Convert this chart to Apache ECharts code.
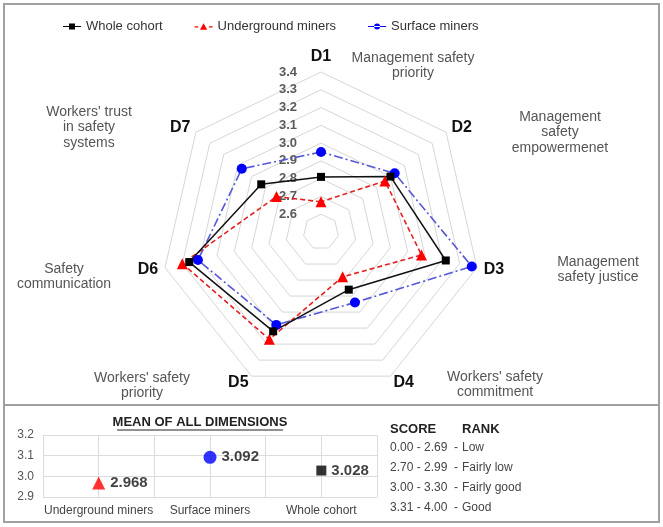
<!DOCTYPE html>
<html>
<head>
<meta charset="utf-8">
<script src="https://cdn.jsdelivr.net/npm/echarts@6/dist/echarts.min.js"></script>
<style>
html, body { margin: 0; padding: 0; background: #fff; }
#main { width: 663px; height: 527px; }
</style>
</head>
<body>
<div id="main"></div>
<script>
// radar dimensions
var dims = ['D1', 'D2', 'D3', 'D4', 'D5', 'D6', 'D7'];
var dimDesc = [
  'Management safety\npriority',
  'Management\nsafety\nempowermenet',
  'Management\nsafety justice',
  "Workers' safety\ncommitment",
  "Workers' safety\npriority",
  'Safety\ncommunication',
  "Workers' trust\nin safety\nsystems"
];
var radarMin = 2.5;
var radarMax = 3.4;
var radarStep = 0.1;

// mean score per dimension
var wholeCohort = [2.81, 3.00, 3.22, 2.86, 3.12, 3.26, 2.93];
var undergroundMiners = [2.67, 2.96, 3.08, 2.78, 3.17, 3.30, 2.82];
var surfaceMiners = [2.95, 3.03, 3.37, 2.94, 3.08, 3.21, 3.07];
var groupNames = ['Whole cohort', 'Underground miners', 'Surface miners'];

// mean of all dimensions
var meanCats = ['Underground miners', 'Surface miners', 'Whole cohort'];
var meanValues = [2.968, 3.092, 3.028];
var meanTicks = [2.9, 3.0, 3.1, 3.2];

// score table
var scoreRanges = ['0.00 - 2.69', '2.70 - 2.99', '3.00 - 3.30', '3.31 - 4.00'];
var scoreRanks = ['Low', 'Fairly low', 'Fairly good', 'Good'];

var FONT = 'Liberation Sans, Arial, sans-serif';

// radar runs counter-clockwise, so feed D1, D7, D6 ... D2 to get them clockwise
var order = [0, 6, 5, 4, 3, 2, 1];
function reorder(arr) { return order.map(function (k) { return arr[k]; }); }

var CX = 321, CY = 232, R = 160;

var myChart = echarts.init(document.getElementById('main'));

// where the long axis descriptions sit (center x, first line y)
var descPos = [[413, 58], [560, 117], [598, 262], [495, 377], [142, 378], [64, 269], [89, 112]];

var graphics = [
  { type: 'rect', z: -1, shape: { x: 4, y: 4, width: 655, height: 401 }, style: { fill: 'none', stroke: '#a0a0a0', lineWidth: 2 } },
  { type: 'rect', z: -1, shape: { x: 4, y: 405, width: 655, height: 117 }, style: { fill: 'none', stroke: '#a0a0a0', lineWidth: 2 } },
  { type: 'text', style: { text: 'MEAN OF ALL DIMENSIONS', x: 200, y: 422, textAlign: 'center', textVerticalAlign: 'middle', fill: '#222', font: 'bold 13px ' + FONT } },
  { type: 'line', shape: { x1: 117, y1: 430, x2: 283, y2: 430 }, style: { stroke: '#222', lineWidth: 1 } },
  { type: 'text', style: { text: 'SCORE', x: 390, y: 429, textVerticalAlign: 'middle', fill: '#222', font: 'bold 13px ' + FONT } },
  { type: 'text', style: { text: 'RANK', x: 462, y: 429, textVerticalAlign: 'middle', fill: '#222', font: 'bold 13px ' + FONT } }
];
for (var i = 0; i < dimDesc.length; i++) {
  graphics.push({
    type: 'text',
    style: { text: dimDesc[i], x: descPos[i][0], y: descPos[i][1] - 8, textAlign: 'center', fill: '#555', font: '14px ' + FONT, lineHeight: 15.5 }
  });
}
for (var j = 0; j < scoreRanges.length; j++) {
  var ry = 448 + j * 20;
  graphics.push({ type: 'text', style: { text: scoreRanges[j] + '  -', x: 390, y: ry, textVerticalAlign: 'middle', fill: '#444', font: '12px ' + FONT } });
  graphics.push({ type: 'text', style: { text: scoreRanks[j], x: 462, y: ry, textVerticalAlign: 'middle', fill: '#444', font: '12px ' + FONT } });
}

var legendIcons = [
  'path://M0,9H30V11H0Z M10,5H20V15H10Z',
  'path://M0,9H6V11H0Z M24,9H30V11H24Z M15,4L21,15H9Z',
  'path://M0,9H30V11H0Z M10,10a5,5 0 1,0 10,0a5,5 0 1,0 -10,0Z'
];

myChart.setOption({
  animation: false,
  textStyle: { fontFamily: FONT },
  legend: {
    top: 15,
    left: 58,
    itemGap: 32,
    itemWidth: 18,
    itemHeight: 10,
    textStyle: { fontSize: 13, color: '#333' },
    data: groupNames.map(function (n, k) { return { name: n, icon: legendIcons[k] }; })
  },
  radar: {
    center: [CX, CY],
    radius: R,
    startAngle: 90,
    shape: 'polygon',
    splitNumber: Math.round((radarMax - radarMin) / radarStep),
    nameGap: 7,
    axisName: { color: '#111', fontSize: 16, fontWeight: 'bold' },
    splitLine: { lineStyle: { color: '#d6d6d6', width: 1 } },
    splitArea: { show: false },
    axisLine: { show: false },
    axisTick: { show: false },
    axisLabel: { show: false },
    indicator: reorder(dims).map(function (d) {
      return { name: d, min: radarMin, max: radarMax };
    })
  },
  grid: [
    { left: 43, top: 435, width: 334, height: 62 },
    // invisible strip along D1 that carries the ring values
    { left: CX - 22, top: CY - R, width: 1, height: R }
  ],
  xAxis: [
    {
      type: 'category',
      data: meanCats,
      axisLine: { show: false },
      axisTick: { show: false },
      axisLabel: { color: '#444', fontSize: 12, margin: 8, interval: 0 },
      splitLine: { show: false }
    },
    {
      type: 'value',
      min: 0,
      max: 6,
      interval: 1,
      axisLine: { show: false },
      axisTick: { show: false },
      axisLabel: { show: false },
      splitLine: { show: true, lineStyle: { color: '#dcdcdc' } }
    },
    { type: 'value', gridIndex: 1, show: false }
  ],
  yAxis: [
    {
      type: 'value',
      min: meanTicks[0],
      max: meanTicks[meanTicks.length - 1],
      interval: 0.1,
      axisLine: { show: false },
      axisTick: { show: false },
      axisLabel: { color: '#555', fontSize: 12, margin: 9, formatter: function (v) { return v.toFixed(1); } },
      splitLine: { lineStyle: { color: '#dcdcdc' } }
    },
    {
      type: 'value',
      gridIndex: 1,
      min: radarMin,
      max: radarMax,
      interval: radarStep,
      axisLine: { show: false },
      axisTick: { show: false },
      splitLine: { show: false },
      axisLabel: {
        color: '#5a5a5a',
        fontSize: 13,
        fontWeight: 'bold',
        margin: 2,
        formatter: function (v) { return v < radarMin + radarStep / 2 ? '' : v.toFixed(1); }
      }
    }
  ],
  series: [
    {
      type: 'radar',
      symbol: 'circle',
      symbolSize: 10,
      itemStyle: { color: '#0000ff' },
      lineStyle: { color: '#5656d8', width: 1.6, type: [9, 3, 2, 3] },
      data: [{ name: groupNames[2], value: reorder(surfaceMiners) }]
    },
    {
      type: 'radar',
      symbol: 'triangle',
      symbolSize: 11,
      itemStyle: { color: '#ff0000' },
      lineStyle: { color: '#e62020', width: 1.6, type: [5, 3] },
      data: [{ name: groupNames[1], value: reorder(undergroundMiners) }]
    },
    {
      type: 'radar',
      symbol: 'rect',
      symbolSize: 8,
      itemStyle: { color: '#000' },
      lineStyle: { color: '#111', width: 1.5, type: 'solid' },
      data: [{ name: groupNames[0], value: reorder(wholeCohort) }]
    },
    {
      type: 'scatter',
      name: 'Mean',
      xAxisIndex: 0,
      yAxisIndex: 0,
      label: {
        show: true,
        position: 'right',
        distance: 5,
        color: '#111',
        fontSize: 15,
        fontWeight: 'bold',
        formatter: function (p) { return p.value[1].toFixed(3); }
      },
      data: meanValues.map(function (v, k) {
        var sym = ['triangle', 'circle', 'rect'][k];
        var col = ['#ff0000', '#0000ff', '#000'][k];
        var size = [13, 13, 10][k];
        return { value: [meanCats[k], v], symbol: sym, symbolSize: size, itemStyle: { color: col } };
      })
    }
  ],
  graphic: graphics
});
</script>
</body>
</html>
